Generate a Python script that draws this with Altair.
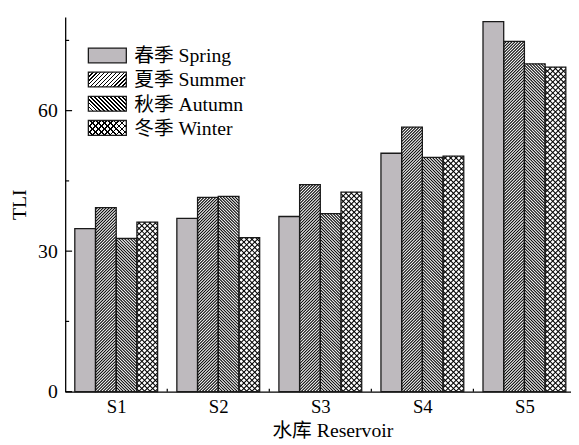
import json
import altair as alt
import pandas as pd

# ---- data ----
reservoirs = ["S1", "S2", "S3", "S4", "S5"]
seasons = ["春季 Spring", "夏季 Summer", "秋季 Autumn", "冬季 Winter"]
spring = [34.8, 37.0, 37.4, 50.9, 79.0]
summer = [39.3, 41.5, 44.2, 56.5, 74.8]
autumn = [32.7, 41.7, 38.0, 50.0, 70.0]
winter = [36.2, 32.9, 42.6, 50.3, 69.3]
y_major = [0, 30, 60]
y_minor = [15, 45, 75]
Y_MAX = 80

# ---- layout ----
FONT = "Liberation Serif, Noto Sans CJK SC"
W, H = 513, 380              # plot area (px)
BAND = 103.5                 # px per reservoir; the axis runs past the window edge
BAR_U = 21.0 / BAND          # bar width in reservoir units
GAP_U = (1 - 4 * BAR_U) / 2
GRAY = "#BEBABE"
CLEAR = "rgba(0,0,0,0)"
# hatch style per season: list of (direction, period px)
HATCH = {seasons[1]: [("/", 3.0)], seasons[2]: [("\\", 3.0)],
         seasons[3]: [("/", 5.5), ("\\", 5.5)]}

series = [spring, summer, autumn, winter]
rows = []
for j, s in enumerate(seasons):
    for i, r in enumerate(reservoirs):
        x0 = i + GAP_U + j * BAR_U
        rows.append({"reservoir": r, "season": s, "value": series[j][i],
                     "x0": x0, "x1": x0 + BAR_U, "zero": 0})
df = pd.DataFrame(rows)


def hatch_segments(xa, xb, top, direction, period):
    """45-degree hatch lines clipped to a bar, returned in data units."""
    w = (xb - xa) * BAND
    h = top * H / Y_MAX
    out = []
    if direction == "/":
        c = -w + period / 2
        while c < h:
            p0, p1 = max(0.0, -c), min(w, h - c)
            if p1 - p0 > 0.2:
                out.append((xa + p0 / BAND, (p0 + c) * Y_MAX / H,
                            xa + p1 / BAND, (p1 + c) * Y_MAX / H))
            c += period
    else:
        c = period / 2
        while c < w + h:
            p0, p1 = max(0.0, c - h), min(w, c)
            if p1 - p0 > 0.2:
                out.append((xa + p0 / BAND, (c - p0) * Y_MAX / H,
                            xa + p1 / BAND, (c - p1) * Y_MAX / H))
            c += period
    return out


seg_rows = []
for rec in rows:
    for d, p in HATCH.get(rec["season"], []):
        for a, b, c2, d2 in hatch_segments(rec["x0"], rec["x1"], rec["value"], d, p):
            seg_rows.append({"hx": a, "hy": b, "hx2": c2, "hy2": d2})
seg_df = pd.DataFrame(seg_rows)

x_scale = alt.Scale(domain=[0, W / BAND], nice=False, zero=False)
y_scale = alt.Scale(domain=[0, Y_MAX], nice=False, zero=True)
x_axis = alt.Axis(
    title="水库 Reservoir", values=[i + 0.5 for i in range(len(reservoirs))],
    labelExpr=f"{json.dumps(reservoirs)}[floor(datum.value)]",
    labelAngle=0, ticks=False, tickSize=0, labelFlush=False, labelOverlap=False,
    labelPadding=6, labelFontSize=19, labelFont=FONT, labelColor="black",
    titleFont=FONT, titleFontSize=20, titleFontWeight="normal", titleColor="black",
    titleX=271, titleY=39, titleBaseline="middle",
    domainColor="black", domainWidth=1.3, grid=False,
)
y_axis = alt.Axis(
    title="TLI", values=y_major, ticks=False, tickSize=0, labelPadding=8,
    labelFontSize=20, labelFont=FONT, labelColor="black",
    titleFont=FONT, titleFontSize=20, titleFontWeight="normal", titleColor="black",
    titleX=-46, titleY=190, titleAngle=270, titleBaseline="middle", titleAlign="center",
    domainColor="black", domainWidth=1.3, grid=False,
)


def X(field):
    return alt.X(f"{field}:Q", scale=x_scale, axis=x_axis)


def Y(field):
    return alt.Y(f"{field}:Q", scale=y_scale, axis=y_axis)


base = alt.Chart(df)
fill_scale = alt.Scale(domain=seasons, range=[GRAY, "white", "white", "white"])

bar_fill = base.mark_rect(strokeWidth=0).encode(
    x=X("x0"), x2="x1:Q", y=Y("value"), y2="zero:Q",
    fill=alt.Fill("season:N", scale=fill_scale, legend=None))

hatch = alt.Chart(seg_df).mark_rule(color="black", strokeWidth=1.05).encode(
    x=X("hx"), y=Y("hy"), x2="hx2:Q", y2="hy2:Q")

bar_line = base.mark_rect(fill=CLEAR, stroke="#1a1a1a", strokeWidth=1.3).encode(
    x=X("x0"), x2="x1:Q", y=Y("value"), y2="zero:Q")

# inward ticks
ytick_major = alt.Chart(pd.DataFrame({"t": y_major})).mark_rule(
    color="black", strokeWidth=1.2).encode(y=Y("t"), x=alt.value(0), x2=alt.value(7))
ytick_minor = alt.Chart(pd.DataFrame({"t": y_minor})).mark_rule(
    color="black", strokeWidth=1.2).encode(y=Y("t"), x=alt.value(0), x2=alt.value(4))
xtick = alt.Chart(pd.DataFrame({"b": list(range(1, len(reservoirs)))})).mark_rule(
    color="black", strokeWidth=1.2).encode(x=X("b"), y=alt.value(H), y2=alt.value(H - 3))


# ---- manual legend with hatched swatches ----
def stripes(direction, w, h, period, frac, bg):
    """Small linear gradient drawn as 45-degree stripes on a w x h swatch."""
    r = h / w
    k = (1 + r) / (1 + r * r)
    x1, y1, x2, y2 = (0, 0, k, k * r) if direction == "/" else (1, 0, 1 - k, k * r)
    dt = period / (w + h)
    stops, t = [], 0.0
    while t < 1 - 1e-9:
        a, b, c = round(t, 6), round(min(t + frac * dt, 1), 6), round(min(t + dt, 1), 6)
        stops += [("#000000", a), ("#000000", b), (bg, b), (bg, c)]
        t += dt
    return alt.LinearGradient(
        gradient="linear",
        stops=[alt.GradientStop(color=col, offset=o) for col, o in stops],
        x1=x1, y1=y1, x2=x2, y2=y2)


SW_X, SW_X2, SW_H = 23.5, 62, 15
row_y = [39, 63.5, 88, 112.5]
sw_w = SW_X2 - SW_X
swatch_fill = [
    [GRAY],
    [stripes("/", sw_w, SW_H, 4, 0.4, "#ffffff")],
    [stripes("\\", sw_w, SW_H, 4, 0.4, "#ffffff")],
    [stripes("/", sw_w, SW_H, 6, 0.27, "#ffffff"),
     stripes("\\", sw_w, SW_H, 6, 0.27, CLEAR)],
]
legend_layers = []
for j, lab in enumerate(seasons):
    one = alt.Chart(alt.Data(values=[{"label": lab}]))
    box = dict(x=alt.value(SW_X), x2=alt.value(SW_X2),
               y=alt.value(row_y[j] - SW_H / 2), y2=alt.value(row_y[j] + SW_H / 2))
    for fill in swatch_fill[j]:
        legend_layers.append(one.mark_rect(fill=fill, strokeWidth=0).encode(**box))
    legend_layers.append(one.mark_rect(fill=CLEAR, stroke="#1a1a1a", strokeWidth=1.3).encode(**box))
    legend_layers.append(one.mark_text(align="left", baseline="middle", font=FONT,
                                       fontSize=20, color="black").encode(
        x=alt.value(70), y=alt.value(row_y[j] + 1), text="label:N"))

chart = alt.layer(
    bar_fill, hatch, bar_line, ytick_major, ytick_minor, xtick, *legend_layers
).properties(
    width=W, height=H,
    autosize=alt.AutoSizeParams(type="none"),
    padding={"left": 58, "top": 6, "right": 0, "bottom": 51},
    background="white",
).configure_view(stroke=None)

chart.save("out.html", embed_options={"renderer": "svg", "actions": False})
